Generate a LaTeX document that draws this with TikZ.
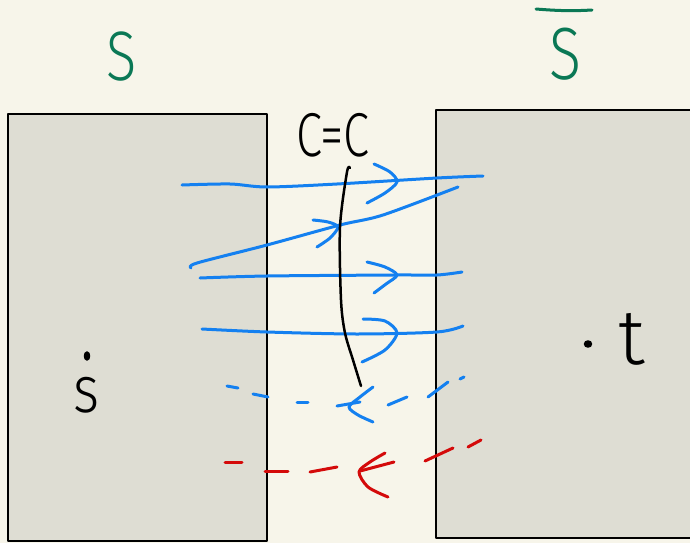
\documentclass[tikz,border=0pt]{standalone}
\usepackage{fontspec}
\newfontfamily\hand{Fira Sans}[UprightFont=* Light]
\definecolor{bg}{RGB}{247,245,234}
\definecolor{boxfill}{RGB}{222,221,211}
\definecolor{penblue}{RGB}{20,128,240}
\definecolor{penred}{RGB}{212,10,10}
\definecolor{pengreen}{RGB}{10,120,85}
\begin{document}
\begin{tikzpicture}[x=1pt,y=-1pt,line cap=round,line join=round,
  region/.style={draw=black,line width=2pt,fill=boxfill},
  bluestroke/.style={draw=penblue,line width=3pt},
  redstroke/.style={draw=penred,line width=3pt},
  blackstroke/.style={draw=black,line width=2.5pt},
  pointdot/.style={fill=black,draw=black,line width=1.5pt},
  greenlabel/.style={text=pengreen,inner sep=0pt,font=\hand\fontsize{70}{70}\selectfont},
  blacklabel/.style={text=black,inner sep=0pt,font=\hand\fontsize{62}{62}\selectfont}]
\fill[bg] (0,0) rectangle (690,543);
\useasboundingbox (0,0) rectangle (690,543);
% regions
\draw[region] (8,114) rectangle (267,541);
\draw[region] (436,110) rectangle (700,538);
% labels
\node[greenlabel] (S) at (122,57) {\scalebox{0.8}[1]{S}};
\node[greenlabel,font=\hand\fontsize{74}{74}\selectfont] (Sbar) at (565,54) {\scalebox{0.8}[1]{S}};
\draw[draw=pengreen,line width=3pt] (536,9) .. controls (560,11) and (575,11) .. (592,10);
\node[blacklabel] (cut) at (333,135) {\scalebox{0.76}[1]{C=C}};
\path[pointdot] (87,356) ellipse (2.5 and 4);
\node[blacklabel,font=\hand\fontsize{66}{66}\selectfont] (s) at (87,395) {\scalebox{0.85}[1]{s}};
\path[pointdot] (588,344) ellipse (3.5 and 3);
\node[blacklabel,font=\hand\fontsize{78}{78}\selectfont] (t) at (632,339) {t};
% blue arrows
\draw[bluestroke] plot[smooth] coordinates {(182,185) (230,184) (267,187) (337,184) (437,178) (483,176)};
\draw[bluestroke] plot[smooth] coordinates {(374,164) (390,172) (397,182) (385,193) (367,203)};
\draw[bluestroke] plot[smooth] coordinates {(191,268) (197,263) (267,245) (340,225) (383,215) (458,187)};
\draw[bluestroke] plot[smooth] coordinates {(313,220) (328,222) (338,227) (330,238) (317,247)};
\draw[bluestroke] plot[smooth] coordinates {(200,278) (267,276) (397,275) (437,275) (462,272)};
\draw[bluestroke] plot[smooth] coordinates {(367,262) (385,267) (397,275) (386,284) (374,293)};
\draw[bluestroke] plot[smooth] coordinates {(202,329) (267,332) (357,334) (437,332) (463,326)};
\draw[bluestroke] plot[smooth] coordinates {(363,319) (385,321) (397,333) (385,350) (362,362)};
% blue dashed return
\draw[bluestroke] (227,386) -- (238,388);
\draw[bluestroke] (253,394) -- (268,397);
\draw[bluestroke] (297,402) -- (308,402);
\draw[bluestroke] (337,406) -- (360,402);
\draw[bluestroke] (388,405) -- (407,397);
\draw[bluestroke] (428,397) -- (448,382);
\draw[bluestroke] (460,379) -- (464,377);
\draw[bluestroke] plot[smooth] coordinates {(373,387) (360,397) (349,407) (358,415) (373,422)};
% red dashed return
\draw[redstroke] (225,462) -- (242,462);
\draw[redstroke] (265,471) -- (288,471);
\draw[redstroke] (310,472) -- (337,467);
\draw[redstroke] (360,471) -- (394,462);
\draw[redstroke] (425,461) -- (453,448);
\draw[redstroke] (468,447) -- (481,440);
\draw[redstroke] plot[smooth] coordinates {(385,453) (370,462) (359,472) (368,487) (388,497)};
% black cut curve
\draw[blackstroke] plot[smooth] coordinates {(350,168) (347,172) (340,227) (341,300) (345,333) (353,360) (361,386)};
\end{tikzpicture}
\end{document}
